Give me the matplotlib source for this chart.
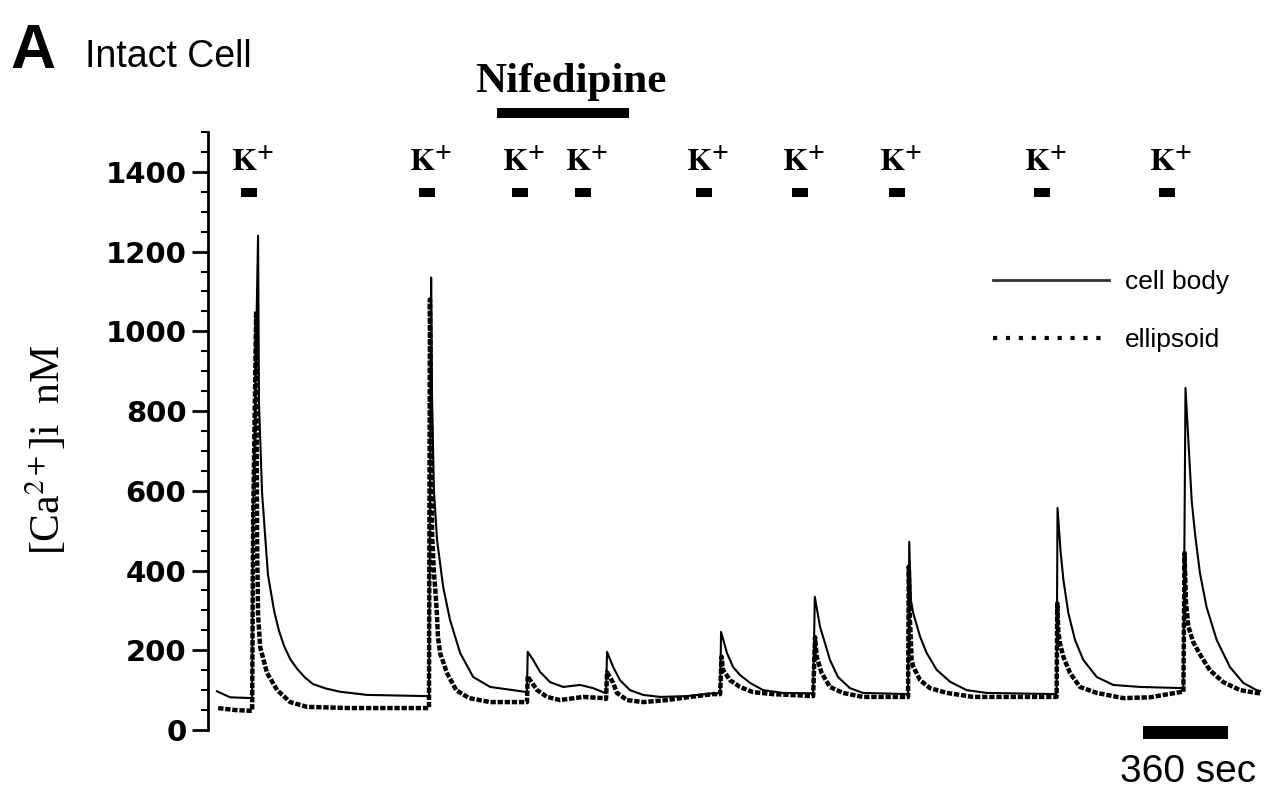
import matplotlib
matplotlib.use('Agg')
import matplotlib.pyplot as plt
from matplotlib.lines import Line2D
from matplotlib.ticker import MultipleLocator

# -------- DATA (time in sec, [Ca2+]i in nM) --------
body_t = [8, 64, 157, 160, 182, 186, 199, 212, 224, 250, 270, 292, 318, 347, 380, 415, 470, 529, 644, 898,
          906, 915, 919, 927, 940, 966, 995, 1038, 1093, 1165, 1262, 1321,
          1324, 1347, 1376, 1419, 1474, 1546, 1601, 1643, 1656,
          1660, 1686, 1715, 1757, 1813, 1885, 1999, 2109, 2139,
          2143, 2168, 2194, 2223, 2266, 2321, 2406, 2533,
          2540, 2562, 2583, 2604, 2638, 2689, 2744, 2935,
          2940, 2947, 2957, 2986, 3014, 3056, 3113, 3183, 3268, 3564,
          3568, 3581, 3593, 3614, 3642, 3677, 3734, 3804, 3917, 4101,
          4110, 4122, 4136, 4150, 4171, 4199, 4242, 4298, 4355, 4411, 4426]
body_ca = [97, 82, 80, 515, 1240, 818, 595, 487, 389, 299, 250, 211, 178, 154, 132, 115, 104, 96, 88, 85,
           85, 1135, 820, 600, 477, 359, 276, 193, 133, 108, 100, 95,
           196, 176, 146, 120, 108, 113, 105, 95, 92,
           196, 158, 125, 100, 88, 83, 85, 92, 92,
           246, 193, 158, 138, 118, 100, 93, 92,
           334, 259, 218, 176, 133, 105, 93, 90,
           472, 326, 293, 234, 193, 151, 121, 100, 93, 90,
           557, 447, 376, 293, 226, 176, 133, 113, 108, 105,
           858, 728, 577, 494, 394, 309, 226, 158, 118, 100, 98]

ell_t = [13, 85, 157, 161, 174, 178, 182, 191, 220, 263, 318, 390, 572, 906,
         910, 919, 927, 935, 940, 944, 953, 982, 1021, 1076, 1165, 1321,
         1324, 1334, 1364, 1406, 1461, 1559, 1643, 1656,
         1660, 1686, 1702, 1745, 1813, 1914, 1999, 2109, 2139,
         2145, 2151, 2181, 2223, 2278, 2363, 2533,
         2541, 2548, 2569, 2604, 2659, 2744, 2935,
         2938, 2943, 2950, 2957, 2986, 3028, 3099, 3211, 3564,
         3567, 3571, 3578, 3593, 3621, 3663, 3734, 3847, 3960, 4087, 4101,
         4106, 4112, 4122, 4143, 4171, 4213, 4270, 4341, 4411, 4426]
ell_ca = [55, 50, 48, 515, 1050, 470, 290, 208, 143, 100, 70, 58, 55, 55,
          1080, 494, 394, 334, 284, 233, 193, 143, 100, 80, 70, 70,
          135, 125, 100, 83, 75, 83, 80, 78,
          145, 118, 93, 75, 70, 75, 82, 90, 90,
          184, 151, 125, 108, 95, 90, 85,
          233, 184, 143, 108, 93, 83, 83,
          410, 276, 176, 159, 125, 105, 93, 83, 83,
          318, 251, 218, 183, 143, 108, 93, 80, 82, 95, 95,
          444, 320, 260, 220, 190, 150, 120, 100, 93, 92]

k_times = [144, 898, 1292, 1558, 2071, 2478, 2888, 3502, 4032]   # K+ pulses
nif_start, nif_end = 1194, 1753                                  # nifedipine
scale_start, scale_len = 3930, 360                               # scale bar
# ---------------------------------------------------

plt.rcParams['mathtext.fontset'] = 'stix'

fig = plt.figure(figsize=(12.87, 7.88), dpi=100)
ax = fig.add_axes([208 / 1287, 1 - 730 / 788, (1262 - 208) / 1287, 598 / 788])

ax.plot(body_t, body_ca, color='black', lw=1.5)
ax.plot(ell_t, ell_ca, color='black', lw=3.2, linestyle=(0, (1.2, 0.4)))

ax.set_xlim(-30, 4434)
ax.set_ylim(0, 1500)

for s in ['top', 'right', 'bottom']:
    ax.spines[s].set_visible(False)
ax.spines['left'].set_linewidth(2)
ax.set_xticks([])
ax.set_yticks(range(0, 1401, 200))
ax.yaxis.set_minor_locator(MultipleLocator(50))
ax.tick_params(axis='y', which='major', length=11.5, width=2, pad=4,
               labelsize=21)
ax.tick_params(axis='y', which='minor', length=5, width=1.5)
for lab in ax.get_yticklabels():
    lab.set_fontweight('bold')
    lab.set_family('DejaVu Sans')

# K+ application marks
ax.bar(k_times, 24, width=70, bottom=1336, color='black', clip_on=False)
for t in k_times:
    ax.text(t + 15, 1402, r'$\mathbf{K^{+}}$', ha='center', va='baseline',
            fontsize=23)

# nifedipine bar
ax.bar([(nif_start + nif_end) / 2], 26, width=nif_end - nif_start,
       bottom=1535, color='black', clip_on=False)
ax.text((nif_start + nif_end) / 2 + 35, 1600, 'Nifedipine', ha='center',
        va='baseline', fontsize=31, fontweight='bold', family='Liberation Serif')

# time scale bar
ax.bar([scale_start + scale_len / 2], 33, width=scale_len, bottom=-23,
       color='black', clip_on=False)
ax.text(scale_start + scale_len / 2 + 10, -130, '360 sec', ha='center',
        va='baseline', fontsize=28, family='Liberation Sans')

# legend
handles = [Line2D([], [], color='#333333', lw=2),
           Line2D([], [], color='black', lw=3, linestyle=(0, (1, 2.1)))]
ax.legend(handles, ['cell body', 'ellipsoid'], loc='upper left',
          bbox_to_anchor=(993 / 1287, 1 - 270 / 788),
          bbox_transform=fig.transFigure, frameon=False, borderpad=0,
          borderaxespad=0, handlelength=4.4, handletextpad=0.6,
          labelspacing=1.3, prop={'family': 'Liberation Sans', 'size': 19})

# titles / axis label
fig.text(10 / 1287, 1 - 68 / 788, 'A', fontsize=45, fontweight='bold',
         family='Liberation Sans', va='baseline')
fig.text(85 / 1287, 1 - 67 / 788, 'Intact Cell', fontsize=27,
         family='Liberation Sans', va='baseline')
fig.text(47 / 1287, 1 - 450 / 788, r'[Ca$^{2+}$]i  nM', rotation=90,
         fontsize=30, family='Liberation Serif', ha='center', va='center')

fig.savefig('out.png', dpi=100)
